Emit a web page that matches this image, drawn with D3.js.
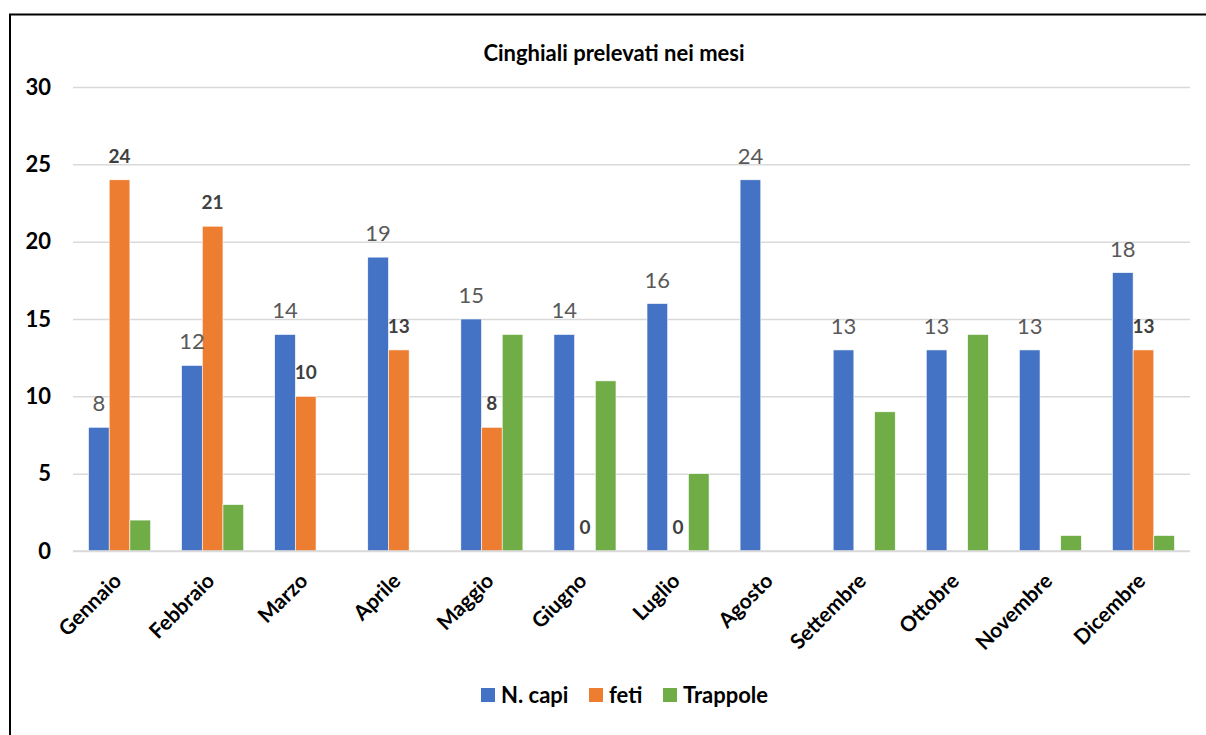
<!DOCTYPE html>
<html>
<head>
<meta charset="utf-8">
<script src="https://cdn.jsdelivr.net/npm/d3@7"></script>
<style>
  body { margin: 0; background: #fff; }
  text { font-family: Lato, Calibri, "Open Sans", sans-serif; }
</style>
</head>
<body>
<script>
// data
const months = ['Gennaio', 'Febbraio', 'Marzo', 'Aprile', 'Maggio', 'Giugno',
    'Luglio', 'Agosto', 'Settembre', 'Ottobre', 'Novembre', 'Dicembre']
const seriesNames = ['N. capi', 'feti', 'Trappole']
const capi = [8, 12, 14, 19, 15, 14, 16, 24, 13, 13, 13, 18]
const feti = [24, 21, 10, 13, 8, 0, 0, null, null, null, null, 13]
const trappole = [2, 3, null, null, 14, 11, 5, null, 9, 14, 1, 1]
const yTicks = [0, 5, 10, 15, 20, 25, 30]

const colors = ['#4472c4', '#ed7d31', '#70ad47']
const allSeries = [capi, feti, trappole]

const width = 1206
const height = 735
const margin = { left: 73, right: 16, top: 87, bottom: 184 }

const svg = d3.select('body')
    .append('svg')
    .attr('width', width)
    .attr('height', height)

// chart frame
svg.append('rect')
    .attr('x', 10)
    .attr('y', 14.5)
    .attr('width', 1200)
    .attr('height', 740)
    .attr('fill', 'none')
    .attr('stroke', '#000')
    .attr('stroke-width', 2)

svg.append('text')
    .attr('x', 614)
    .attr('y', 61)
    .attr('text-anchor', 'middle')
    .style('font-size', '22px')
    .style('font-weight', 'bold')
    .text('Cinghiali prelevati nei mesi')

const x = d3.scaleBand()
    .domain(months)
    .range([margin.left, width - margin.right])
    .paddingInner(1 / 3)
    .paddingOuter(1 / 6)

const xSub = d3.scaleBand()
    .domain(d3.range(seriesNames.length))
    .range([0, x.bandwidth()])

const y = d3.scaleLinear()
    .domain([0, 30])
    .range([height - margin.bottom, margin.top])

// gridlines
const yAxis = d3.axisLeft(y)
    .tickValues(yTicks)
    .tickSize(-(width - margin.left - margin.right))
    .tickPadding(22)

svg.append('g')
    .attr('transform', `translate(${margin.left},0)`)
    .call(yAxis)
    .call(g => g.select('.domain').remove())
    .call(g => g.selectAll('.tick line').attr('stroke', '#d9d9d9').attr('stroke-width', 1.5))
    .call(g => g.selectAll('.tick text')
        .attr('fill', '#000')
        .style('font-size', '22px')
        .style('font-weight', 'bold'))

// bars
const groups = svg.append('g')
    .selectAll('g')
    .data(months)
    .join('g')
    .attr('transform', d => `translate(${x(d)},0)`)

groups.selectAll('rect')
    .data((m, i) => allSeries.map((s, k) => ({ k: k, v: s[i] })))
    .join('rect')
    .filter(d => d.v !== null)
    .attr('x', d => xSub(d.k))
    .attr('width', xSub.bandwidth())
    .attr('y', d => y(d.v))
    .attr('height', d => y(0) - y(d.v))
    .attr('fill', d => colors[d.k])
    .attr('stroke', '#fff')
    .attr('stroke-width', 0.6)

// data labels: N. capi (normal) and feti (bold)
groups.selectAll('text.lbl')
    .data((m, i) => [{ k: 0, v: capi[i] }, { k: 1, v: feti[i] }])
    .join('text')
    .attr('class', 'lbl')
    .filter(d => d.v !== null)
    .attr('x', d => xSub(d.k) + xSub.bandwidth() / 2)
    .attr('y', d => y(d.v) - (d.k === 0 ? 16 : 17))
    .attr('text-anchor', 'middle')
    .attr('fill', d => d.k === 0 ? '#595959' : '#404040')
    .style('font-size', d => d.k === 0 ? '22px' : '19px')
    .style('font-weight', d => d.k === 0 ? 'normal' : 'bold')
    .text(d => d.v)

// x axis baseline
svg.append('line')
    .attr('x1', margin.left)
    .attr('x2', width - margin.right)
    .attr('y1', y(0))
    .attr('y2', y(0))
    .attr('stroke', '#d9d9d9')
    .attr('stroke-width', 1.5)

// rotated month labels
svg.append('g')
    .selectAll('text')
    .data(months)
    .join('text')
    .attr('transform', d => `translate(${x(d) + x.bandwidth() / 2 - 2},${y(0) + 26}) rotate(-45)`)
    .attr('text-anchor', 'end')
    .attr('dy', '0.35em')
    .style('font-size', '21px')
    .style('font-weight', 'bold')
    .text(d => d)

// legend
const legendX = [481, 589, 663]
const legend = svg.append('g')
    .selectAll('g')
    .data(seriesNames)
    .join('g')
    .attr('transform', (d, i) => `translate(${legendX[i]},688)`)

legend.append('rect')
    .attr('width', 14)
    .attr('height', 14)
    .attr('fill', (d, i) => colors[i])

legend.append('text')
    .attr('x', 20)
    .attr('y', 7)
    .attr('dy', '0.36em')
    .style('font-size', '22px')
    .style('font-weight', 'bold')
    .text(d => d)
</script>
</body>
</html>
